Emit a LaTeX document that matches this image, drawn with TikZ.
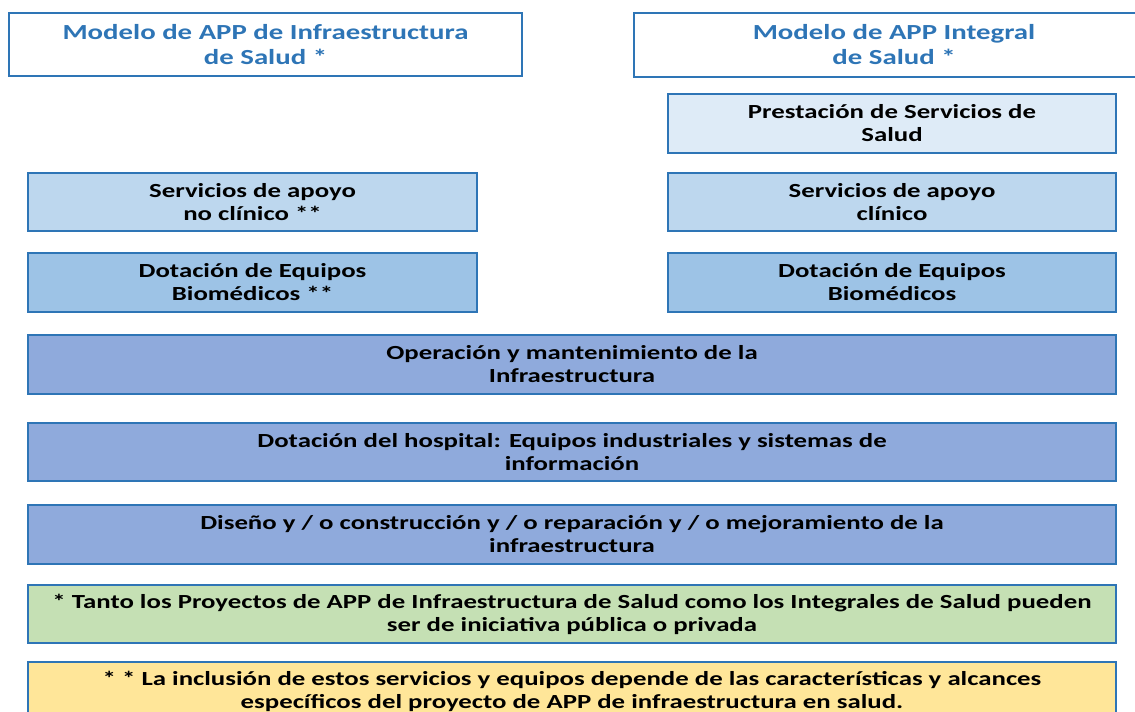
\documentclass[tikz,border=0pt]{standalone}
\usepackage{fontspec}
\setmainfont{Carlito}[FakeStretch=1.34]
\definecolor{bordo}{HTML}{2E75B6}
\definecolor{fillP}{HTML}{DEEBF7}
\definecolor{fillS}{HTML}{BDD7EE}
\definecolor{fillD}{HTML}{9DC3E6}
\definecolor{fillO}{HTML}{8FAADC}
\definecolor{fillG}{HTML}{C5E0B4}
\definecolor{fillY}{HTML}{FFE699}
\tikzset{
  box/.style={draw=bordo, line width=2.5pt, inner sep=0pt, align=center,
    font=\fontsize{20}{23}\selectfont\bfseries, text=black},
  titlebox/.style={box, fill=white, text=bordo, font=\fontsize{21.5}{25}\selectfont\bfseries},
}
\begin{document}
\begin{tikzpicture}[x=1pt,y=-1pt]
\useasboundingbox (0,0) rectangle (1135,712);
\clip (0,0) rectangle (1135,712);
\node[titlebox, minimum width=513pt, minimum height=63pt] (tl) at (265.5,44.5) {Modelo de APP de Infraestructura\\de Salud *};
\node[titlebox, minimum width=520pt, minimum height=64pt] (tr) at (894,45) {Modelo de APP Integral\\de Salud *};
\node[box, fill=fillP, minimum width=448pt, minimum height=59pt] (pres) at (892,123.5) {Prestación de Servicios de\\Salud};
\node[box, fill=fillS, minimum width=449pt, minimum height=58pt] (sl) at (252.5,202) {Servicios de apoyo\\no clínico **};
\node[box, fill=fillS, minimum width=448pt, minimum height=58pt] (sr) at (892,202) {Servicios de apoyo\\clínico};
\node[box, fill=fillD, minimum width=449pt, minimum height=59pt] (dl) at (252.5,282.5) {Dotación de Equipos\\Biomédicos **};
\node[box, fill=fillD, minimum width=448pt, minimum height=59pt] (dr) at (892,282.5) {Dotación de Equipos\\Biomédicos};
\node[box, fill=fillO, minimum width=1088pt, minimum height=59pt] (op) at (572,364.5) {Operación y mantenimiento de la\\Infraestructura};
\node[box, fill=fillO, minimum width=1088pt, minimum height=58pt] (hos) at (572,452) {Dotación del hospital: Equipos industriales y sistemas de\\información};
\node[box, fill=fillO, minimum width=1088pt, minimum height=59pt] (dis) at (572,534.5) {Diseño y / o construcción y / o reparación y / o mejoramiento de la\\infraestructura};
\node[box, fill=fillG, minimum width=1088pt, minimum height=58pt] (tanto) at (572,614) {* Tanto los Proyectos de APP de Infraestructura de Salud como los Integrales de Salud pueden\\ser de iniciativa pública o privada};
\node[box, fill=fillY, minimum width=1088pt, minimum height=58pt] (incl) at (572,691) {* * La inclusión de estos servicios y equipos depende de las características y alcances\\específicos del proyecto de APP de infraestructura en salud.};
\end{tikzpicture}
\end{document}
